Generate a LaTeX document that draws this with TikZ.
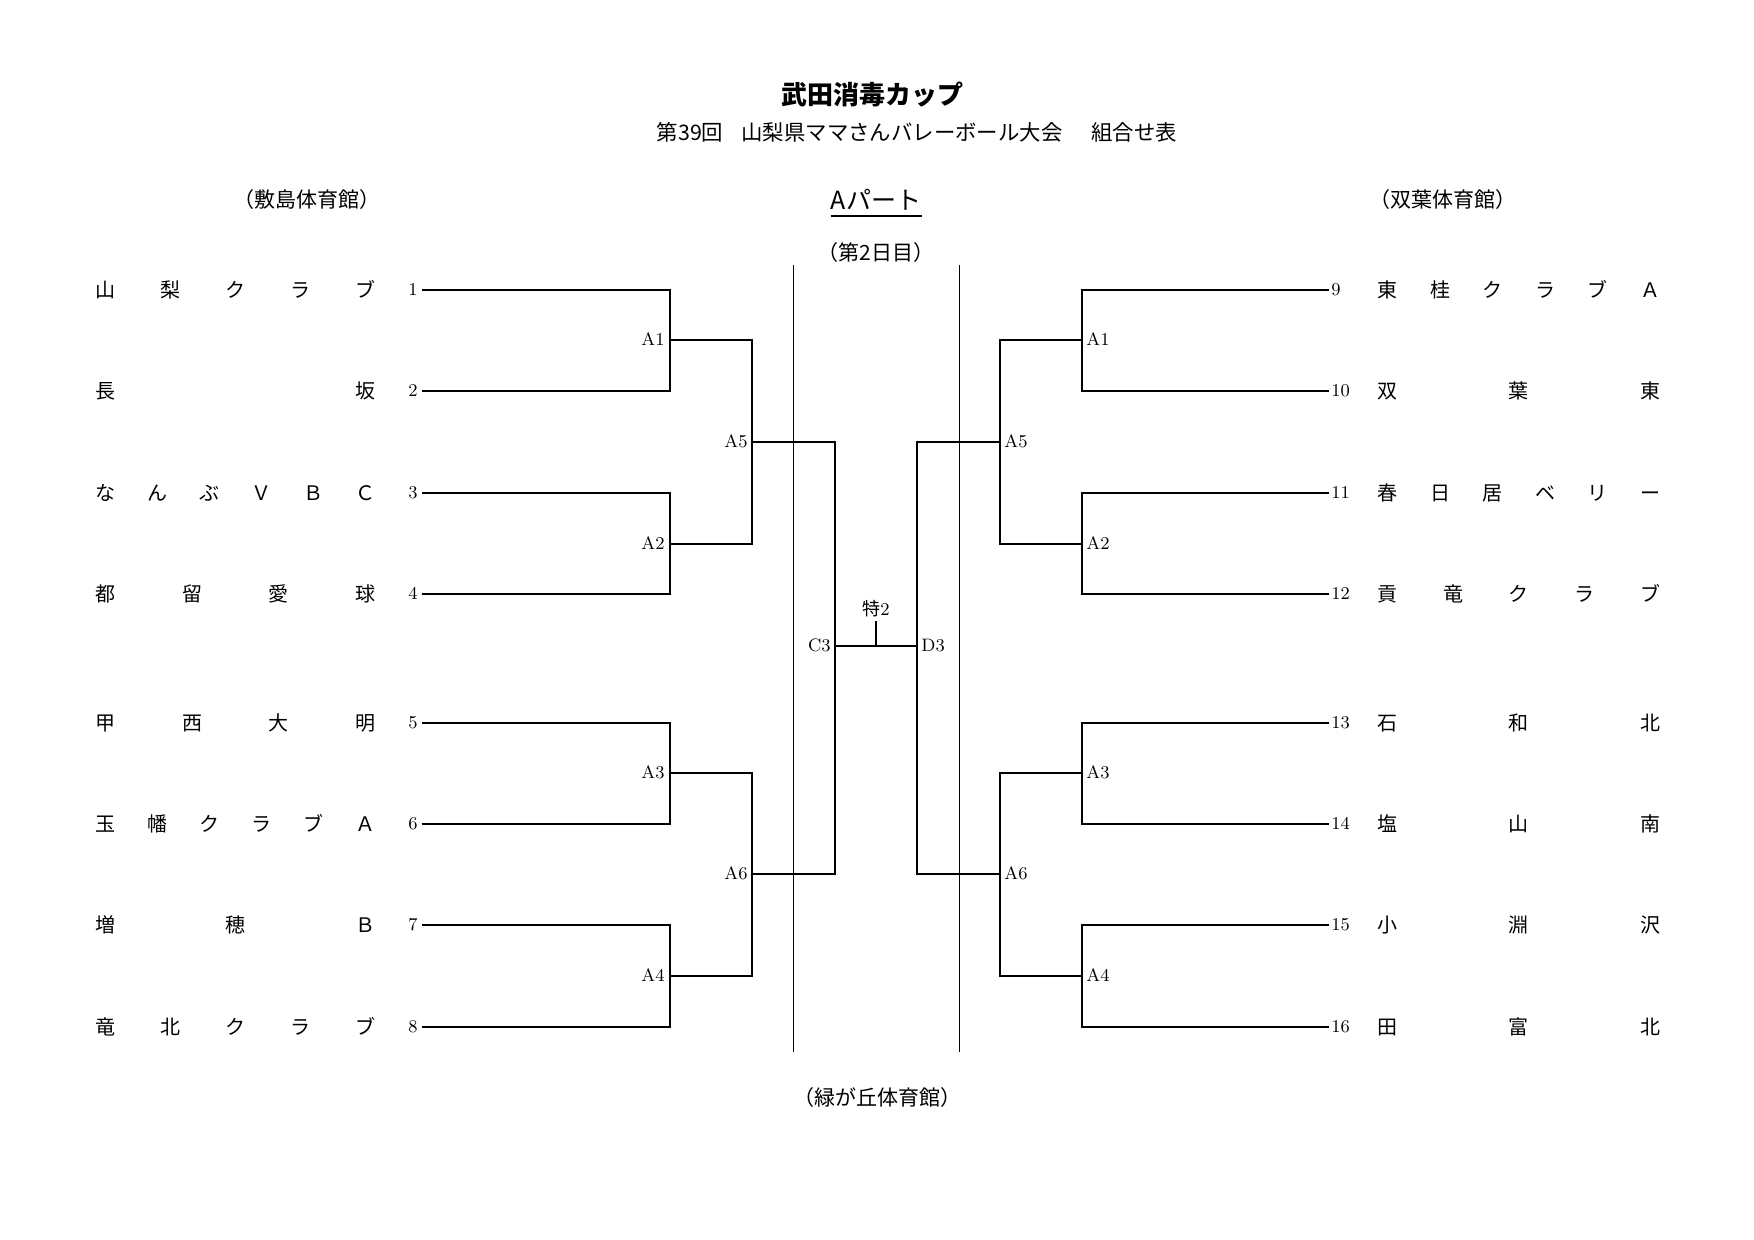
\documentclass[tikz,border=0pt]{standalone}
\usepackage{fontspec}
\newfontfamily\jp{Noto Sans CJK JP}
\begin{document}
\begin{tikzpicture}[x=0.5pt,y=-0.5pt,
  br/.style={line width=1pt, line join=miter},
  thinv/.style={line width=0.5pt},
  num/.style={inner sep=0pt, font=\fontsize{9}{9}\selectfont, text height=5.85pt, text depth=0pt},
  jpt/.style={inner sep=0pt, font=\jp\fontsize{10.5}{10.5}\selectfont, text height=9.25pt, text depth=1.25pt},
  subt/.style={inner sep=0pt, font=\jp\fontsize{10.7}{10.7}\selectfont, text height=9.4pt, text depth=1.3pt},
  tname/.style={inner sep=0pt, anchor=west, font=\jp\fontsize{10}{10}\selectfont, text height=8.8pt, text depth=1.2pt},
  ttl/.style={inner sep=0pt, font=\jp\bfseries\fontsize{13}{13}\selectfont, text height=11.45pt, text depth=1.55pt},
  part/.style={inner sep=0pt, font=\jp\fontsize{12.5}{12.5}\selectfont, text height=11pt, text depth=1.5pt}]
\useasboundingbox (0,0) rectangle (1754,1240);

% headings
\node[ttl] (title) at (872,95) {武田消毒カップ};
\node[subt] (sub1) at (690,132) {第39回};
\node[subt] (sub2) at (902,132) {山梨県ママさんバレーボール大会};
\node[subt] (sub3) at (1134,132) {組合せ表};
\node[part] (ap) at (876,200) {Aパート};
\draw[line width=0.75pt] ([yshift=-1.5pt]ap.south west) -- ([yshift=-1.5pt]ap.south east);
\node[jpt] (day) at (876,253) {（第2日目）};
\node[jpt] (gymL) at (307,200) {（敷島体育館）};
\node[jpt] (gymR) at (1443,200) {（双葉体育館）};
\node[jpt] (gymC) at (877,1097) {（緑が丘体育館）};

% thin vertical lines
\coordinate (V1t) at (793,265); \coordinate (V1b) at (793,1052);
\coordinate (V2t) at (959,265); \coordinate (V2b) at (959,1052);
\draw[thinv] (V1t) -- (V1b);
\draw[thinv] (V2t) -- (V2b);

% row coordinates
\foreach \i/\y in {1/290,2/391,3/493,4/594,5/723,6/824,7/925,8/1027}{
  \coordinate (L\i) at (422,\y);
  \node[num, anchor=east] (nL\i) at (418,\y) {\i};
}
\foreach \i/\y in {9/290,10/391,11/493,12/594,13/723,14/824,15/925,16/1027}{
  \coordinate (R\i) at (1329,\y);
  \node[num, anchor=west] (nR\i) at (1331,\y) {\i};
}

% match coordinates
\coordinate (M1) at (670,340); \coordinate (M2) at (670,544);
\coordinate (M3) at (670,773); \coordinate (M4) at (670,976);
\coordinate (M5) at (752,442); \coordinate (M6) at (752,874);
\coordinate (C3) at (835,646);
\coordinate (N1) at (1082,340); \coordinate (N2) at (1082,544);
\coordinate (N3) at (1082,773); \coordinate (N4) at (1082,976);
\coordinate (N5) at (1000,442); \coordinate (N6) at (1000,874);
\coordinate (D3) at (917,646);
\coordinate (T) at (876,646); \coordinate (Tt) at (876,621);

% left bracket
\draw[br] (L1) -| (M1) |- (L2);
\draw[br] (L3) -| (M2) |- (L4);
\draw[br] (L5) -| (M3) |- (L6);
\draw[br] (L7) -| (M4) |- (L8);
\draw[br] (M1) -| (M5) |- (M2);
\draw[br] (M3) -| (M6) |- (M4);
\draw[br] (M5) -| (C3) |- (M6);
% right bracket
\draw[br] (R9) -| (N1) |- (R10);
\draw[br] (R11) -| (N2) |- (R12);
\draw[br] (R13) -| (N3) |- (R14);
\draw[br] (R15) -| (N4) |- (R16);
\draw[br] (N1) -| (N5) |- (N2);
\draw[br] (N3) -| (N6) |- (N4);
\draw[br] (N5) -| (D3) |- (N6);
% final
\draw[br] (C3) -- (D3);
\draw[br] (T) -- (Tt);
\node[inner sep=0pt, anchor=south, font=\fontsize{9}{9}\selectfont] (sp) at (876,617) {{\jp 特}2};

% match labels
\node[num, anchor=east] (lA1) at (665,340) {A1};
\node[num, anchor=east] (lA2) at (665,544) {A2};
\node[num, anchor=east] (lA3) at (665,773) {A3};
\node[num, anchor=east] (lA4) at (665,976) {A4};
\node[num, anchor=east] (lA5) at (748,442) {A5};
\node[num, anchor=east] (lA6) at (748,874) {A6};
\node[num, anchor=east] (lC3) at (831,646) {C3};
\node[num, anchor=west] (rA1) at (1086,340) {A1};
\node[num, anchor=west] (rA2) at (1086,544) {A2};
\node[num, anchor=west] (rA3) at (1086,773) {A3};
\node[num, anchor=west] (rA4) at (1086,976) {A4};
\node[num, anchor=west] (rA5) at (1004,442) {A5};
\node[num, anchor=west] (rA6) at (1004,874) {A6};
\node[num, anchor=west] (rD3) at (921,646) {D3};

% team names left
\node[tname] (t1) at (95,290) {\makebox[140pt][l]{山\hfill 梨\hfill ク\hfill ラ\hfill ブ}};
\node[tname] (t2) at (95,391) {\makebox[140pt][l]{長\hfill 坂}};
\node[tname] (t3) at (95,493) {\makebox[140pt][l]{な\hfill ん\hfill ぶ\hfill Ｖ\hfill Ｂ\hfill Ｃ}};
\node[tname] (t4) at (95,594) {\makebox[140pt][l]{都\hfill 留\hfill 愛\hfill 球}};
\node[tname] (t5) at (95,723) {\makebox[140pt][l]{甲\hfill 西\hfill 大\hfill 明}};
\node[tname] (t6) at (95,824) {\makebox[140pt][l]{玉\hfill 幡\hfill ク\hfill ラ\hfill ブ\hfill Ａ}};
\node[tname] (t7) at (95,925) {\makebox[140pt][l]{増\hfill 穂\hfill Ｂ}};
\node[tname] (t8) at (95,1027) {\makebox[140pt][l]{竜\hfill 北\hfill ク\hfill ラ\hfill ブ}};
% team names right
\node[tname] (t9) at (1377,290) {\makebox[141.5pt][l]{東\hfill 桂\hfill ク\hfill ラ\hfill ブ\hfill Ａ}};
\node[tname] (t10) at (1377,391) {\makebox[141.5pt][l]{双\hfill 葉\hfill 東}};
\node[tname] (t11) at (1377,493) {\makebox[141.5pt][l]{春\hfill 日\hfill 居\hfill ベ\hfill リ\hfill ー}};
\node[tname] (t12) at (1377,594) {\makebox[141.5pt][l]{貢\hfill 竜\hfill ク\hfill ラ\hfill ブ}};
\node[tname] (t13) at (1377,723) {\makebox[141.5pt][l]{石\hfill 和\hfill 北}};
\node[tname] (t14) at (1377,824) {\makebox[141.5pt][l]{塩\hfill 山\hfill 南}};
\node[tname] (t15) at (1377,925) {\makebox[141.5pt][l]{小\hfill 淵\hfill 沢}};
\node[tname] (t16) at (1377,1027) {\makebox[141.5pt][l]{田\hfill 富\hfill 北}};
\end{tikzpicture}
\end{document}
